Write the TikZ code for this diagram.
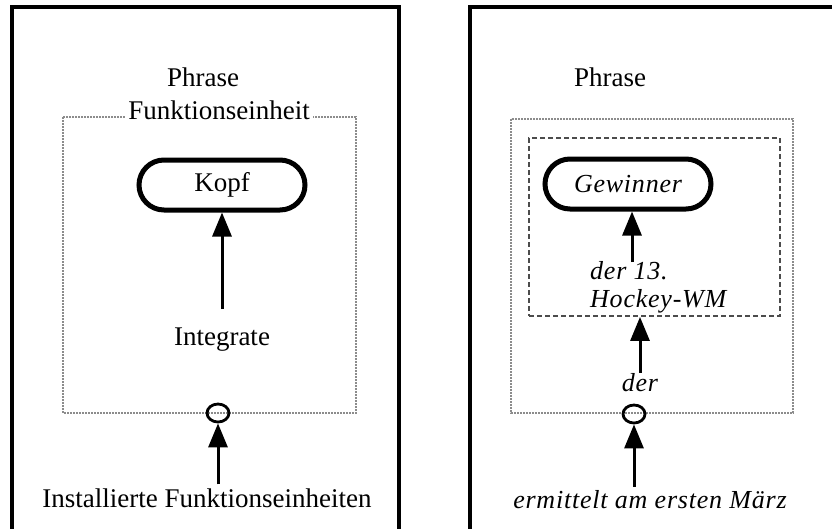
\documentclass[tikz,border=0pt]{standalone}
\usepackage{fontspec}
\setmainfont{Liberation Serif}
\usetikzlibrary{arrows.meta,shapes.geometric}
\begin{document}
\begin{tikzpicture}[x=1pt,y=-1pt,
  frame/.style={line width=3.2pt},
  dotbox/.style={draw=gray!90, line width=2pt, dash pattern=on 2pt off 1pt},
  dashbox/.style={draw=gray!60!black, line width=1.8pt, dash pattern=on 5pt off 3pt},
  headbox/.style={draw, line width=5pt, rounded corners=25pt, minimum width=166pt, minimum height=50pt},
  port/.style={draw, ellipse, line width=2.8pt, minimum width=22pt, minimum height=18pt, inner sep=0pt},
  lbl/.style={font=\fontsize{27}{30}\selectfont, inner sep=1pt},
  ilbl/.style={font=\fontsize{26}{28}\selectfont\itshape\addfontfeatures{LetterSpace=3}, inner sep=1pt},
  up/.style={line width=3pt, -{Triangle[length=24pt,width=19pt]}}
]
\useasboundingbox (0,0) rectangle (832,528);
\clip (0,0) rectangle (832,528);

% outer frames (open at the bottom / right)
\draw[frame] (12,560) -- (12,7) -- (399,7) -- (399,560);
\draw[frame] (470,560) -- (470,7) -- (860,7);

% ---- left panel ----
\draw[dotbox] (63,117) rectangle (356,413);
\node[lbl] (phrL) at (203,77) {Phrase};
\node[lbl, fill=white, inner xsep=3pt] (fe) at (219,110) {Funktionseinheit};
\node[headbox, lbl] (kopf) at (222,185) {Kopf};
\node[lbl] (integ) at (222,340) {Integrate};
\draw[up, shorten <=18pt] (integ) -- (kopf);
\node[port] (portL) at (218,413) {};
\node[lbl] (inst) at (207,498) {Installierte Funktionseinheiten};
\draw[up, shorten <=3pt] (portL |- inst.north) -- (portL);

% ---- right panel ----
\draw[dotbox] (511,119) rectangle (793,413);
\node[dashbox, minimum width=251pt, minimum height=178pt, inner sep=0pt] (inner) at (654.5,227) {};
\node[lbl] (phrR) at (610,77) {Phrase};
\node[headbox, ilbl] (gew) at (628,184) {Gewinner};
\node[ilbl, align=left, anchor=west] (wm) at (589,287) {der 13.\\Hockey-WM};
\coordinate (wmtop) at (632,262);
\draw[up] (wmtop) -- (wmtop |- gew.south);
\node[ilbl] (der) at (640,383) {der};
\draw[up] (der) -- (der |- inner.south);
\node[port] (portR) at (634,414) {};
\node[ilbl] (erm) at (650,500) {ermittelt am ersten März};
\draw[up, shorten <=3pt] (portR |- erm.north) -- (portR);
\end{tikzpicture}
\end{document}
